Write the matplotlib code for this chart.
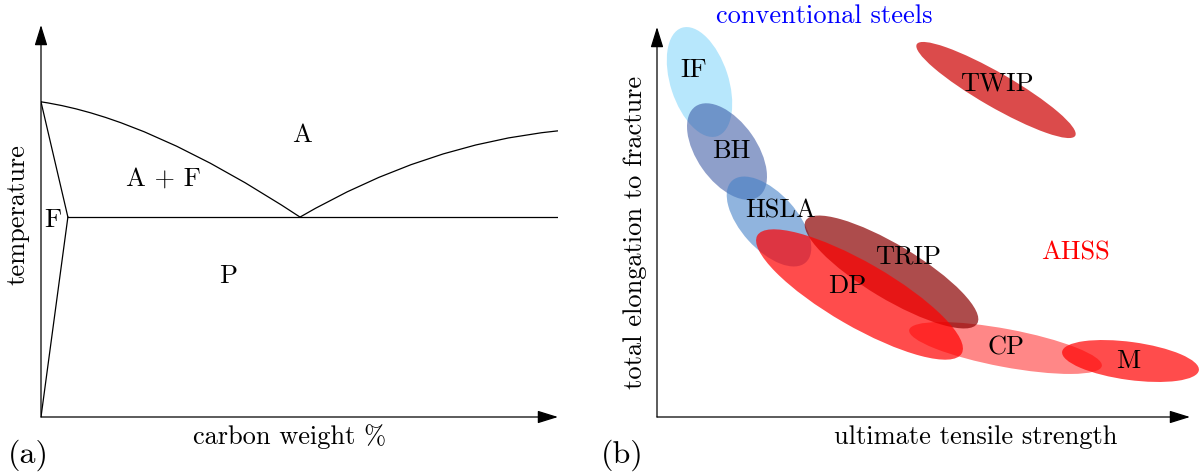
import matplotlib
matplotlib.use("Agg")
import matplotlib.pyplot as plt
from matplotlib.patches import Ellipse, PathPatch
from matplotlib.path import Path

plt.rcParams['font.family'] = ['cmr10', 'DejaVu Serif']
plt.rcParams['mathtext.fontset'] = 'cm'
plt.rcParams['axes.unicode_minus'] = False

# (a) schematic Fe-C phase diagram, axes run 0..1 in both directions
a3_start = (0.0, 0.804)
alpha_nose = (0.052, 0.510)
eutectoid = (0.501, 0.510)
acm_end = (1.0, 0.730)
a3_ctrl = (0.211, 0.763)
acm_ctrl = (0.743, 0.696)

phase_labels = ['A', 'A + F', 'F', 'P']
phase_x = [0.505, 0.236, 0.023, 0.362]
phase_y = [0.718, 0.607, 0.503, 0.360]

# (b) strength / elongation banana, arbitrary units
steel_names = ['IF', 'BH', 'HSLA', 'TWIP', 'CP', 'TRIP', 'DP', 'M']
steel_x = [42.5, 70, 112, 339, 348.5, 234.5, 202.5, 473.5]
steel_y = [335, 265.5, 195.5, 327, 69, 145, 122.5, 56]
steel_w = [114, 110, 110, 183, 196, 200, 236, 138]
steel_h = [58, 60, 56, 34, 38, 54, 64, 38]
steel_angle = [-72, -55, -48, -30, -10.6, -31, -30, -7.7]
label_x = [37, 74, 124, 340, 349, 251, 190, 471]
label_y = [347, 266, 206, 333, 69, 160, 131, 56]

steel_colors = ['#87d7fa', '#32509f', '#4682c8', '#d21e1e', '#ff0000',
                '#8b0000', '#ff0000', '#ff0000']
steel_alpha = [0.6, 0.55, 0.6, 0.8, 0.47, 0.7, 0.7, 0.7]

fig = plt.figure(figsize=(12, 4.73), dpi=100)
W, H = 1200, 473


def axes_px(x0, x1, y_top, y_bot):
    return fig.add_axes([x0 / W, (H - y_bot) / H, (x1 - x0) / W, (y_bot - y_top) / H])


def draw_arrows(ax):
    kw = dict(arrowstyle='-|>,head_length=0.9,head_width=0.28', color='black',
              lw=0.9, shrinkA=0, shrinkB=0, mutation_scale=14)
    ax.annotate('', xy=(1, 0), xytext=(0, 0), xycoords='axes fraction',
                arrowprops=kw, annotation_clip=False)
    ax.annotate('', xy=(0, 1), xytext=(0, 0), xycoords='axes fraction',
                arrowprops=kw, annotation_clip=False)


# ---- panel (a)
ax1 = axes_px(41, 558, 25, 417)
ax1.set_xlim(0, 1)
ax1.set_ylim(0, 1)
ax1.axis('off')
draw_arrows(ax1)

lw = 0.9
ax1.plot([0, alpha_nose[0]], [0, alpha_nose[1]], color='black', lw=lw)
ax1.plot([a3_start[0], alpha_nose[0]], [a3_start[1], alpha_nose[1]], color='black', lw=lw)
ax1.plot([alpha_nose[0], acm_end[0]], [alpha_nose[1], alpha_nose[1]], color='black', lw=lw)
for p0, c, p1 in [(a3_start, a3_ctrl, eutectoid), (eutectoid, acm_ctrl, acm_end)]:
    path = Path([p0, c, p1], [Path.MOVETO, Path.CURVE3, Path.CURVE3])
    ax1.add_patch(PathPatch(path, fill=False, color='black', lw=lw))

for txt, x, y in zip(phase_labels, phase_x, phase_y):
    ax1.text(x, y, txt, fontsize=19, ha='center', va='center')

fig.text(18 / W, 1 - 215 / H, 'temperature', fontsize=19, rotation=90,
         ha='center', va='center')
fig.text(290 / W, 1 - 437 / H, 'carbon weight %', fontsize=19, ha='center', va='center')
fig.text(28 / W, 1 - 455 / H, '(a)', fontsize=23, ha='center', va='center')

# ---- panel (b)
ax2 = axes_px(657, 1190, 27, 417)
ax2.set_xlim(0, 533)
ax2.set_ylim(0, 390)
ax2.axis('off')
draw_arrows(ax2)

for i, name in enumerate(steel_names):
    e = Ellipse((steel_x[i], steel_y[i]), steel_w[i], steel_h[i], angle=steel_angle[i],
                facecolor=steel_colors[i], alpha=steel_alpha[i], edgecolor='none',
                clip_on=False)
    ax2.add_patch(e)
for i, name in enumerate(steel_names):
    ax2.text(label_x[i], label_y[i], name, fontsize=19, ha='center', va='center',
             clip_on=False)

ax2.text(418, 164, 'AHSS', color='red', fontsize=19, ha='center', va='center')
ax2.text(167, 401, 'conventional steels', color='blue', fontsize=19,
         ha='center', va='center', clip_on=False)

fig.text(635 / W, 1 - 232 / H, 'total elongation to fracture', fontsize=19,
         rotation=90, ha='center', va='center')
fig.text(976 / W, 1 - 437 / H, 'ultimate tensile strength', fontsize=19,
         ha='center', va='center')
fig.text(622 / W, 1 - 455 / H, '(b)', fontsize=23, ha='center', va='center')

fig.savefig('out.png', dpi=100)
